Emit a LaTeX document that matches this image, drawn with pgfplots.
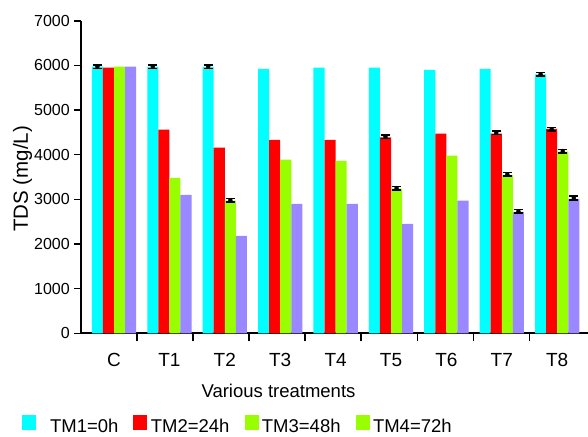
\documentclass[border=0pt]{standalone}
\usepackage{fontspec}
\setmainfont{Liberation Sans}
\usepackage{pgfplots}
\usepackage{pgfplotstable}
\pgfplotsset{compat=1.18}
\definecolor{tmcyan}{HTML}{00FFFF}
\definecolor{tmred}{HTML}{FF0000}
\definecolor{tmgreen}{HTML}{99FF00}
\definecolor{tmpurple}{HTML}{9988FF}

\pgfplotstableread{
x tmone tmtwo tmthree tmfour
0 5970 5950 5970 5970
1 5960 4560 3480 3100
2 5960 4160 2970 2180
3 5920 4330 3890 2900
4 5950 4330 3860 2900
5 5950 4390 3240 2450
6 5900 4470 3980 2970
7 5920 4470 3540 2720
8 5800 4580 4070 3010
}\tds

\begin{document}
\begin{tikzpicture}
\useasboundingbox (0,0) rectangle (588pt,436pt);
\begin{axis}[
  at={(81pt,102.7pt)}, anchor=south west,
  scale only axis, width=507pt, height=312.6pt,
  xmin=-0.596, xmax=8.556, ymin=0, ymax=7000,
  axis x line*=bottom, axis y line*=left,
  axis line style={-, line width=1.8pt, black},
  tick align=outside, major tick length=7pt, minor tick length=8pt,
  xtick={0,1,2,3,4,5,6,7,8},
  xticklabels={C,T1,T2,T3,T4,T5,T6,T7,T8},
  minor xtick={-0.6,0.41,1.43,2.44,3.45,4.46,5.48,6.49,7.5},
  major x tick style={draw=none},
  minor x tick style={black, line width=1.6pt},
  ytick={0,1000,2000,3000,4000,5000,6000,7000},
  major y tick style={black, line width=1.6pt},
  /pgf/number format/assume math mode=true,
  /pgf/number format/1000 sep={},
  xticklabel style={font=\fontsize{19}{22}\selectfont, anchor=north, inner sep=0pt, yshift=-12.5pt},
  yticklabel style={font=\fontsize{16}{18}\selectfont, anchor=east, inner sep=0pt, xshift=-4pt},
  xlabel={Various treatments},
  xlabel style={font=\fontsize{18.5}{21}\selectfont, at={(axis description cs:0.3895,-0.185)}, anchor=center, inner sep=0pt},
  ylabel={TDS (mg/L)},
  ylabel style={font=\fontsize{20.5}{23}\selectfont, at={(axis description cs:-0.115,0.494)}, anchor=center, inner sep=0pt},
  legend columns=4,
  legend style={draw=none, fill=none, inner sep=0pt, at={(axis description cs:-0.117,-0.262)}, anchor=north west,
    font=\fontsize{18.5}{21}\selectfont,
    /tikz/every odd column/.append style={column sep=2pt},
    /tikz/every even column/.append style={column sep=13pt}},
  legend cell align=left,
]
\addplot[ybar, bar width=0.2, bar shift=-0.3, fill=tmcyan, draw=none, forget plot] table[x=x, y=tmone]{\tds};
\addplot[ybar, bar width=0.2, bar shift=-0.1, fill=tmred, draw=none, forget plot] table[x=x, y=tmtwo]{\tds};
\addplot[ybar, bar width=0.2, bar shift=0.1, fill=tmgreen, draw=none, forget plot] table[x=x, y=tmthree]{\tds};
\addplot[ybar, bar width=0.2, bar shift=0.3, fill=tmpurple, draw=none, forget plot] table[x=x, y=tmfour]{\tds};
\addplot[only marks, mark=none, forget plot,
  error bars/.cd, y dir=both, y explicit,
  error bar style={draw=black, solid, line width=1.4pt},
  error mark=-, error mark options={draw=black, rotate=90, mark size=4.5pt, line width=1.6pt}]
  coordinates {
  (-0.3,5970) +- (0,40)
  (0.7,5970) +- (0,40)
  (1.7,5970) +- (0,40)
  (2.1,2980) +- (0,40)
  (4.9,4400) +- (0,40)
  (5.1,3250) +- (0,40)
  (6.9,4490) +- (0,40)
  (7.1,3560) +- (0,40)
  (7.3,2730) +- (0,40)
  (7.7,5800) +- (0,40)
  (7.9,4570) +- (0,40)
  (8.1,4080) +- (0,40)
  (8.3,3030) +- (0,40)
  };
\addlegendimage{legend image code/.code={\path[draw=none, fill=none] (0pt,0pt) rectangle (24pt,0.1pt); \fill[tmcyan] (0pt,-3pt) rectangle (13pt,11pt);}}
\addlegendentry{TM1=0h}
\addlegendimage{legend image code/.code={\fill[tmred] (0pt,-3pt) rectangle (13pt,11pt);}}
\addlegendentry{TM2=24h}
\addlegendimage{legend image code/.code={\fill[tmgreen] (0pt,-3pt) rectangle (13pt,11pt);}}
\addlegendentry{TM3=48h}
\addlegendimage{legend image code/.code={\fill[tmgreen] (0pt,-3pt) rectangle (13pt,11pt);}}
\addlegendentry{TM4=72h}
\end{axis}
\end{tikzpicture}
\end{document}
